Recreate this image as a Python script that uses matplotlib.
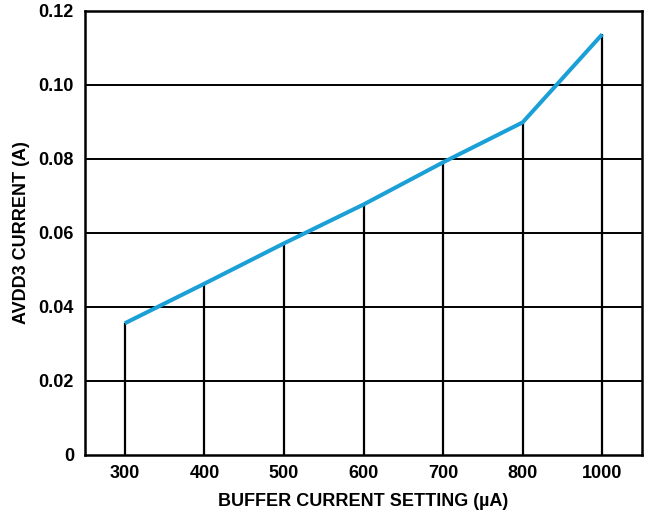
import matplotlib.pyplot as plt

# Datos
settings = ['300', '400', '500', '600', '700', '800', '1000']
current = [0.0356, 0.0463, 0.0572, 0.0677, 0.0791, 0.0899, 0.1137]
y_ticks = [0, 0.02, 0.04, 0.06, 0.08, 0.10, 0.12]
y_labels = ['0', '0.02', '0.04', '0.06', '0.08', '0.10', '0.12']

plt.rcParams['font.family'] = ['Liberation Sans', 'DejaVu Sans']
plt.rcParams['font.weight'] = 'bold'

fig = plt.figure(figsize=(6.51, 5.14), dpi=100)
ax = fig.add_axes([0.1306, 0.1148, 0.8556, 0.8638])

x = list(range(len(settings)))

# Lineas horizontales de la rejilla
for yt in y_ticks[1:-1]:
    ax.axhline(yt, color='black', lw=1.4, zorder=1)

# Lineas verticales desde 0 hasta el dato
ax.vlines(x, 0, current, color='black', lw=1.6, zorder=2)

ax.plot(x, current, color='#1a9fd6', lw=2.9, solid_capstyle='butt', zorder=3)

ax.set_xlim(-0.5, 6.5)
ax.set_ylim(0, 0.12)
ax.set_xticks(x)
ax.set_xticklabels(settings)
ax.set_yticks(y_ticks)
ax.set_yticklabels(y_labels)
ax.tick_params(length=0, labelsize=13)
ax.tick_params(axis='x', pad=7)
ax.tick_params(axis='y', pad=8)
for s in ax.spines.values():
    s.set_linewidth(1.8)

ax.set_xlabel('BUFFER CURRENT SETTING (µA)', fontsize=13, fontweight='bold', labelpad=8)
ax.set_ylabel('AVDD3 CURRENT (A)', fontsize=13, fontweight='bold', labelpad=6)

plt.savefig('out.png', dpi=100)
